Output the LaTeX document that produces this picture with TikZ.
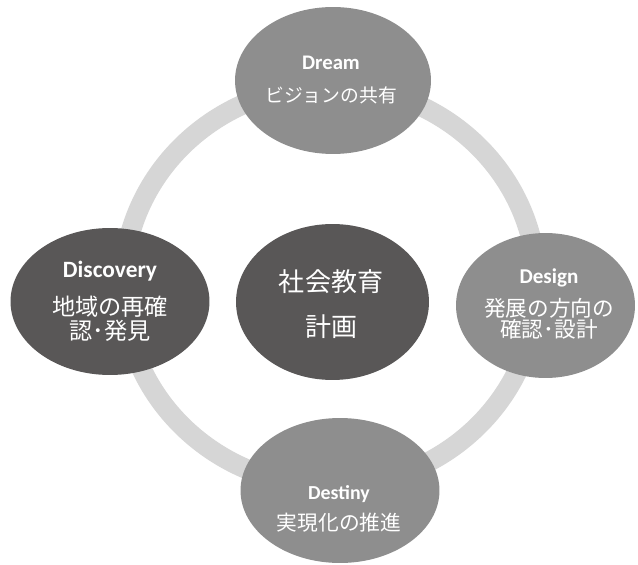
\documentclass[tikz,border=0pt]{standalone}
\usepackage{fontspec}
\setmainfont{Carlito}
\newfontfamily\jp{Noto Sans CJK JP}
\usetikzlibrary{shapes.geometric, positioning}
\definecolor{ringgray}{HTML}{D6D6D6}
\definecolor{midgray}{HTML}{8E8E8E}
\definecolor{darkgray}{HTML}{595757}
\newcommand{\fs}[2]{\fontsize{#1}{#2}\selectfont}

\begin{document}
\begin{tikzpicture}[x=0.02cm, y=-0.02cm,
    blob/.style={ellipse, inner sep=0pt, draw=none},
    lbl/.style={text=white, align=center, inner sep=0pt}]
    \useasboundingbox (0,0) rectangle (638,564);
    % ring behind the steps
    \draw[ringgray, line width=0.4cm] (330,286) ellipse [x radius=207, y radius=200];
    % the five ellipses
    \node[blob, fill=midgray, minimum width=3.92cm, minimum height=2.94cm] (dream) at (333,80.5) {};
    \node[blob, fill=midgray, minimum width=3.58cm, minimum height=2.90cm] (design) at (545.5,305.5) {};
    \node[blob, fill=midgray, minimum width=3.98cm, minimum height=2.90cm] (destiny) at (340,490.5) {};
    \node[blob, fill=darkgray, minimum width=3.98cm, minimum height=2.94cm] (discovery) at (110,301.5) {};
    \node[blob, fill=darkgray, minimum width=3.86cm, minimum height=3.12cm] (plan) at (332.5,302) {};
    % texts
    \node[lbl, font=\fs{11.8}{19.3}] (dreamtxt) at (331,80)
        {\textbf{Dream}\\{\fs{10.7}{19.3}\jp ビジョンの共有}};
    \node[lbl, font=\fs{12}{18.7}] (designtxt) at (549,304)
        {\textbf{Design}\\{\fs{12.3}{18.7}\jp 発展の方向の}\\[-6.8pt]{\fs{12.3}{18.7}\jp 確認･設計}};
    \node[lbl, font=\fs{11.3}{18.1}] (destinytxt) at (339,509)
        {\textbf{Destiny}\\{\fs{11.8}{18.1}\jp 実現化の推進}};
    \node[lbl, font=\fs{13.3}{21.5}] (discoverytxt) at (110,301)
        {\textbf{Discovery}\\{\fs{13.2}{21.5}\jp 地域の再確}\\[-7.9pt]{\fs{13.2}{21.5}\jp 認･発見}};
    \node[lbl, font=\fs{14.8}{25.5}\jp] (plantxt) at (331,304.5) {社会教育\\計画};
\end{tikzpicture}
\end{document}
